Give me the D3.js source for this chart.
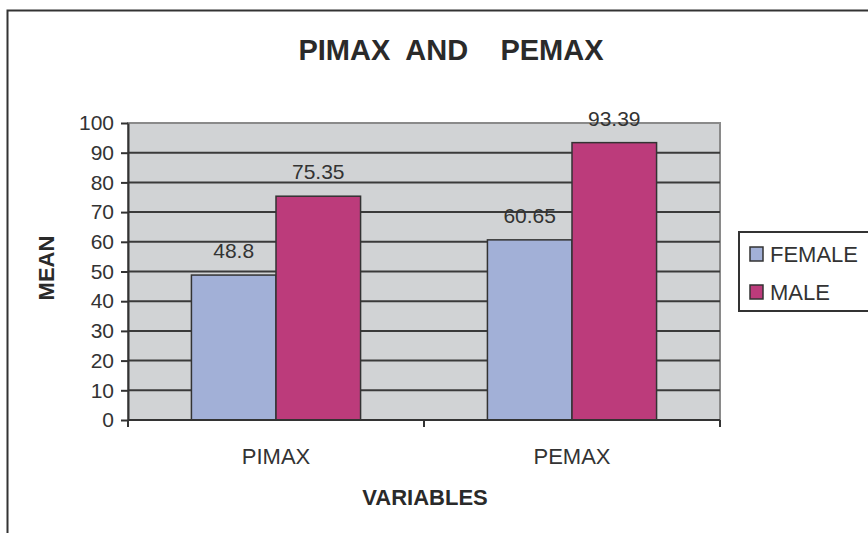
<!DOCTYPE html>
<html>
<head>
<meta charset="utf-8">
<script src="https://cdn.jsdelivr.net/npm/d3@7"></script>
<style>
  html, body { margin: 0; padding: 0; background: #fff; }
  svg { display: block; font-family: Arial, "Liberation Sans", sans-serif; }
</style>
</head>
<body>
<svg id="chart" width="868" height="533"></svg>
<script>
// Mean respiratory pressures by sex
const categories = ["PIMAX", "PEMAX"];
const seriesNames = ["FEMALE", "MALE"];
const femaleValues = [48.8, 60.65];
const maleValues = [75.35, 93.39];
const yTicks = [0, 10, 20, 30, 40, 50, 60, 70, 80, 90, 100];
const seriesColors = ["#a2b0d7", "#bc3b7b"];

const valuesBySeries = [femaleValues, maleValues];

const svg = d3.select("#chart");

// outer frame of the chart
svg.append("rect")
  .attr("x", 7.5).attr("y", 10.5)
  .attr("width", 900).attr("height", 600)
  .attr("fill", "#fff").attr("stroke", "#333").attr("stroke-width", 2);

const plot = { left: 128, right: 720, top: 123, bottom: 420 };

const x0 = d3.scaleBand().domain(categories).range([plot.left, plot.right]);
const x1 = d3.scaleBand().domain(seriesNames).range([0, x0.bandwidth()])
  .paddingInner(0).paddingOuter(0.75);
const y = d3.scaleLinear().domain([0, 100]).range([plot.bottom, plot.top]);

// plot background
svg.append("rect")
  .attr("x", plot.left).attr("y", plot.top)
  .attr("width", plot.right - plot.left).attr("height", plot.bottom - plot.top)
  .attr("fill", "#d1d3d5").attr("stroke", "#8a8a8a").attr("stroke-width", 2);

// horizontal gridlines
svg.append("g").selectAll("line")
  .data(yTicks.filter(t => t > 0 && t < 100))
  .join("line")
  .attr("x1", plot.left).attr("x2", plot.right)
  .attr("y1", d => y(d)).attr("y2", d => y(d))
  .attr("stroke", "#3a3a3a").attr("stroke-width", 2);

// bars
const groups = svg.append("g").selectAll("g")
  .data(categories)
  .join("g")
  .attr("transform", d => `translate(${x0(d)},0)`);

groups.selectAll("rect")
  .data((c, i) => seriesNames.map((s, k) => ({ s, v: valuesBySeries[k][i], k })))
  .join("rect")
  .attr("x", d => x1(d.s))
  .attr("y", d => y(d.v))
  .attr("width", x1.bandwidth())
  .attr("height", d => y(0) - y(d.v))
  .attr("fill", d => seriesColors[d.k])
  .attr("stroke", "#333").attr("stroke-width", 1.5);

// value labels
groups.selectAll("text")
  .data((c, i) => seriesNames.map((s, k) => ({ s, v: valuesBySeries[k][i], k })))
  .join("text")
  .attr("x", d => x1(d.s) + x1.bandwidth() / 2)
  .attr("y", d => y(d.v) - 17)
  .attr("text-anchor", "middle")
  .attr("font-size", 21)
  .attr("fill", "#333")
  .text(d => d.v);

// y axis
const yAxis = svg.append("g")
  .attr("transform", `translate(${plot.left},0)`)
  .call(d3.axisLeft(y).tickValues(yTicks).tickSize(7).tickPadding(7).tickSizeOuter(0));
yAxis.select(".domain").attr("stroke", "#333").attr("stroke-width", 2);
yAxis.selectAll(".tick line").attr("stroke", "#333").attr("stroke-width", 2);
yAxis.selectAll(".tick text")
  .attr("font-size", 21).attr("fill", "#333")
  .attr("font-family", "Arial, 'Liberation Sans', sans-serif");

// x axis with ticks between categories
const xAxisG = svg.append("g");
xAxisG.append("line")
  .attr("x1", plot.left).attr("x2", plot.right)
  .attr("y1", plot.bottom).attr("y2", plot.bottom)
  .attr("stroke", "#333").attr("stroke-width", 2);
xAxisG.selectAll("line.tk")
  .data([...categories.map(c => x0(c)), plot.right])
  .join("line").attr("class", "tk")
  .attr("x1", d => d).attr("x2", d => d)
  .attr("y1", plot.bottom).attr("y2", plot.bottom + 7)
  .attr("stroke", "#333").attr("stroke-width", 2);
xAxisG.selectAll("text")
  .data(categories)
  .join("text")
  .attr("x", d => x0(d) + x0.bandwidth() / 2)
  .attr("y", 464)
  .attr("text-anchor", "middle")
  .attr("font-size", 22)
  .attr("fill", "#333")
  .text(d => d);

// title
svg.append("text")
  .attr("x", 451).attr("y", 60)
  .attr("text-anchor", "middle")
  .attr("font-size", 29).attr("font-weight", "bold")
  .attr("fill", "#2a2a2a")
  .style("white-space", "pre")
  .text("PIMAX  AND    PEMAX");

// axis titles
svg.append("text")
  .attr("x", 425).attr("y", 505)
  .attr("text-anchor", "middle")
  .attr("font-size", 22).attr("font-weight", "bold")
  .attr("fill", "#2a2a2a")
  .text("VARIABLES");

svg.append("text")
  .attr("transform", "translate(54,268) rotate(-90)")
  .attr("text-anchor", "middle")
  .attr("font-size", 22).attr("font-weight", "bold")
  .attr("fill", "#2a2a2a")
  .text("MEAN");

// legend
const legend = svg.append("g");
legend.append("rect")
  .attr("x", 739).attr("y", 232)
  .attr("width", 150).attr("height", 79)
  .attr("fill", "#fff").attr("stroke", "#333").attr("stroke-width", 2);
const items = legend.selectAll("g")
  .data(seriesNames)
  .join("g")
  .attr("transform", (d, i) => `translate(750,${247 + i * 38})`);
items.append("rect")
  .attr("width", 13).attr("height", 14)
  .attr("fill", (d, i) => seriesColors[i])
  .attr("stroke", "#333").attr("stroke-width", 1.5);
items.append("text")
  .attr("x", 20).attr("y", 15)
  .attr("font-size", 22).attr("fill", "#333")
  .text(d => d);
</script>
</body>
</html>
